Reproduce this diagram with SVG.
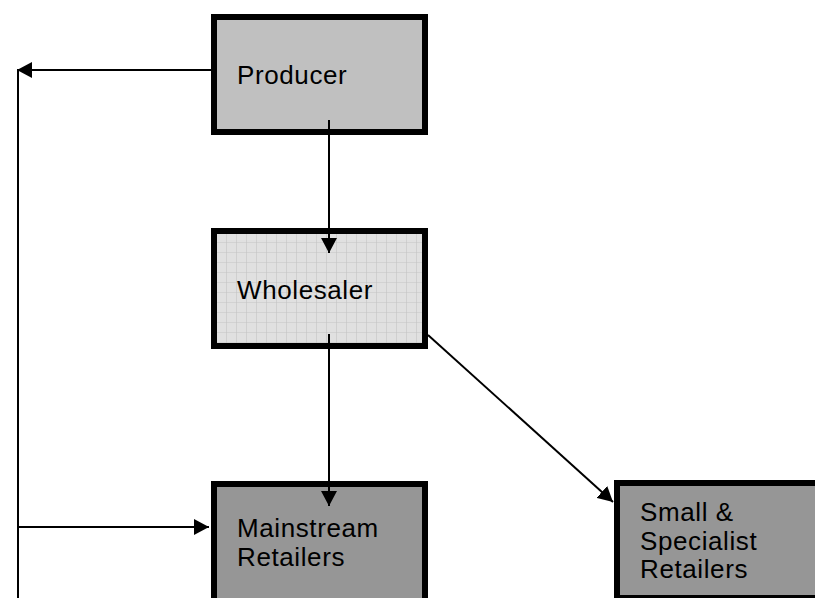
<svg xmlns="http://www.w3.org/2000/svg" width="815" height="598" viewBox="0 0 815 598">
<defs>
<style>
.box{stroke:#000;stroke-width:6}
.lbl{font-family:"Liberation Sans",Arial,sans-serif;font-size:26px;letter-spacing:0.6px;fill:#000}
.conn{stroke:#000;stroke-width:2;fill:none}
</style>
<marker id="arr" markerUnits="userSpaceOnUse" markerWidth="15" markerHeight="16" refX="15" refY="8" orient="auto">
<path d="M0,0 L15,8 L0,16 z" fill="#000"/>
</marker>
<pattern id="grid" patternUnits="userSpaceOnUse" x="6" y="2" width="10" height="10">
<rect width="10" height="10" fill="#e0e0e0"/>
<path d="M0,0 H10 M0,0 V10" stroke="#c4c4c4" stroke-width="1.2"/>
</pattern>
</defs>
<rect width="815" height="598" fill="#fff"/>
<g id="producer">
<rect class="box" x="214" y="17" width="211" height="115" fill="#c0c0c0"/>
<text class="lbl" x="237" y="84">Producer</text>
</g>
<g id="wholesaler">
<rect class="box" x="214" y="231" width="211" height="115" fill="url(#grid)"/>
<text class="lbl" x="237" y="299">Wholesaler</text>
</g>
<g id="mainstream">
<rect class="box" x="214" y="484" width="211" height="130" fill="#969696"/>
<text class="lbl" x="237" y="537">Mainstream</text>
<text class="lbl" x="237" y="566">Retailers</text>
</g>
<g id="specialist">
<rect class="box" x="617" y="483" width="220" height="115" fill="#969696"/>
<text class="lbl" x="640" y="521">Small &amp;</text>
<text class="lbl" x="640" y="550">Specialist</text>
<text class="lbl" x="640" y="578">Retailers</text>
</g>
<g id="connectors">
<line class="conn" x1="329" y1="120" x2="329" y2="253" marker-end="url(#arr)"/>
<line class="conn" x1="329" y1="334" x2="329" y2="506" marker-end="url(#arr)"/>
<line class="conn" x1="428" y1="335" x2="613" y2="502" marker-end="url(#arr)"/>
<line class="conn" x1="211" y1="70" x2="17" y2="70" marker-end="url(#arr)"/>
<line class="conn" x1="18" y1="69" x2="18" y2="598"/>
<line class="conn" x1="18" y1="527" x2="209" y2="527" marker-end="url(#arr)"/>
</g>
</svg>
